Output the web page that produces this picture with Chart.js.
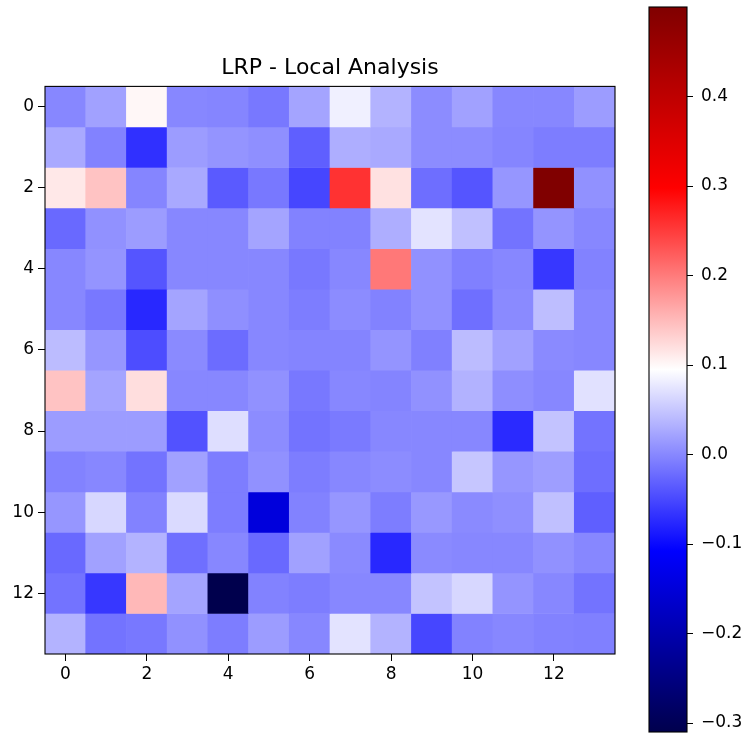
<!DOCTYPE html>
<html><head><meta charset="utf-8">
<script src="https://cdn.jsdelivr.net/npm/chart.js@4"></script>
<style>
html,body{margin:0;padding:0;background:#fff;width:748px;height:733px;overflow:hidden}
#main{position:absolute;left:0;top:0}
#cbar{position:absolute;left:600px;top:0}
</style></head><body>
<canvas id="main" width="660" height="733"></canvas>
<canvas id="cbar" width="148" height="733"></canvas>
<script>
const title = 'LRP - Local Analysis';
const colLabels = ['0','1','2','3','4','5','6','7','8','9','10','11','12','13'];
const yTicks = [0,2,4,6,8,10,12];
const cbTicks = [-0.3,-0.2,-0.1,0.0,0.1,0.2,0.3,0.4];
const vmin = -0.31;
const vmax = 0.50;

const row0  = [0.000, 0.020, 0.101, 0.000, -0.002, -0.012, 0.023, 0.083, 0.035, 0.004, 0.020, 0.000, 0.000, 0.016];
const row1  = [0.027, -0.004, -0.069, 0.016, 0.010, 0.006, -0.032, 0.031, 0.027, 0.004, 0.004, -0.002, -0.008, -0.008];
const row2  = [0.113, 0.143, -0.002, 0.027, -0.036, -0.012, -0.052, 0.258, 0.119, -0.020, -0.040, 0.012, 0.500, 0.008];
const row3  = [-0.024, 0.008, 0.016, 0.000, 0.000, 0.023, -0.004, -0.004, 0.031, 0.073, 0.045, -0.016, 0.010, 0.000];
const row4  = [0.000, 0.010, -0.040, 0.000, 0.000, 0.000, -0.012, 0.000, 0.202, 0.008, -0.006, 0.000, -0.064, -0.004];
const row5  = [0.000, -0.012, -0.076, 0.023, 0.006, 0.000, -0.008, 0.004, -0.004, 0.008, -0.019, 0.002, 0.043, 0.000];
const row6  = [0.042, 0.012, -0.046, 0.002, -0.022, 0.000, -0.003, -0.003, 0.010, -0.006, 0.042, 0.020, 0.002, 0.000];
const row7  = [0.143, 0.023, 0.121, 0.000, 0.000, 0.008, -0.012, 0.000, -0.003, 0.008, 0.034, 0.005, 0.000, 0.071];
const row8  = [0.016, 0.016, 0.016, -0.042, 0.069, 0.004, -0.016, -0.011, 0.000, 0.000, 0.000, -0.074, 0.047, -0.016];
const row9  = [-0.004, 0.000, -0.016, 0.020, -0.008, 0.008, -0.008, 0.000, 0.004, 0.000, 0.050, 0.012, 0.018, -0.020];
const row10 = [0.012, 0.063, -0.004, 0.066, -0.008, -0.147, -0.004, 0.012, -0.008, 0.013, 0.002, 0.006, 0.045, -0.032];
const row11 = [-0.024, 0.020, 0.035, -0.019, 0.000, -0.024, 0.020, 0.002, -0.076, 0.002, 0.000, 0.000, 0.008, 0.000];
const row12 = [-0.016, -0.064, 0.151, 0.023, -0.310, -0.004, -0.008, 0.000, 0.000, 0.047, 0.063, 0.010, 0.000, -0.016];
const row13 = [0.035, -0.016, -0.012, 0.008, -0.008, 0.016, 0.000, 0.073, 0.035, -0.052, -0.004, 0.000, -0.004, -0.006];
const rows = [row0,row1,row2,row3,row4,row5,row6,row7,row8,row9,row10,row11,row12,row13];

// matplotlib "seismic" colormap anchors
const seismicStops = [[0,0,0,0.3],[0.25,0,0,1],[0.5,1,1,1],[0.75,1,0,0],[1,0.5,0,0]];
function seismicT(t){
  t = Math.max(0, Math.min(1, t));
  for (let i=0;i<seismicStops.length-1;i++){
    const a=seismicStops[i], b=seismicStops[i+1];
    if (t<=b[0]){
      const f=(t-a[0])/(b[0]-a[0]);
      const c=[1,2,3].map(k=>Math.round(255*(a[k]+(b[k]-a[k])*f)));
      return `rgb(${c[0]},${c[1]},${c[2]})`;
    }
  }
  return 'rgb(128,0,0)';
}
function seismic(v){ return seismicT((v-vmin)/(vmax-vmin)); }

const FONT = 'DejaVu Sans';
const frame = {
  id:'frame',
  afterDraw(chart){
    const a=chart.chartArea, c=chart.ctx;
    c.save(); c.strokeStyle='#000'; c.lineWidth=1.1;
    c.strokeRect(a.left, a.top, a.right-a.left, a.bottom-a.top);
    c.restore();
  }
};

const datasets = rows.map((row, r) => ({
  label: 'row ' + r,
  data: row.map(() => [r-0.5, r+0.5]),
  backgroundColor: row.map(seismic),
  borderWidth: 0,
  grouped: false,
  barPercentage: 1,
  categoryPercentage: 1
}));

new Chart(document.getElementById('main'), {
  type: 'bar',
  data: { labels: colLabels, datasets },
  options: {
    responsive: false, animation: false,
    layout: { padding: 0, autoPadding: false },
    plugins: {
      legend: { display: false }, tooltip: { enabled: false },
      title: { display: true, text: title, color: '#000',
        font: { family: FONT, size: 22, weight: 'normal' }, padding: { top: 55, bottom: 5 } }
    },
    scales: {
      x: {
        type: 'category', offset: true,
        grid: { offset: false, drawOnChartArea: false, drawTicks: true, tickLength: 7, color: '#000' },
        border: { display: false },
        ticks: { color: '#000', font: { family: FONT, size: 17 }, padding: 3, maxRotation: 0, autoSkip: false },
        afterBuildTicks: s => { s.ticks = s.ticks.filter(t => t.value % 2 === 0); },
        afterFit: s => { s.height = 79; }
      },
      y: {
        type: 'linear', reverse: true, min: -0.5, max: 13.5,
        grid: { drawOnChartArea: false, drawTicks: true, tickLength: 7, color: '#000' },
        border: { display: false },
        ticks: { color: '#000', font: { family: FONT, size: 17 }, padding: 4, autoSkip: false },
        afterBuildTicks: s => { s.ticks = yTicks.map(v => ({ value: v })); },
        afterFit: s => { s.width = 45; }
      },
      yRight: {
        type: 'linear', position: 'right', min: 0, max: 1,
        grid: { display: false }, border: { display: false },
        ticks: { display: false },
        afterFit: s => { s.width = 45; }
      }
    }
  },
  plugins: [frame]
});

new Chart(document.getElementById('cbar'), {
  type: 'bar',
  data: { labels: ['cb'], datasets: [{
    data: [[vmin, vmax]],
    backgroundColor: ctx => {
      const ca = ctx.chart.chartArea;
      if (!ca) return '#888';
      const g = ctx.chart.ctx.createLinearGradient(0, ca.bottom, 0, ca.top);
      for (let i=0;i<=40;i++){ g.addColorStop(i/40, seismicT(i/40)); }
      return g;
    },
    borderWidth: 0, barPercentage: 1, categoryPercentage: 1
  }]},
  options: {
    responsive: false, animation: false,
    layout: { padding: { left: 49, top: 7, bottom: 1, right: 0 }, autoPadding: false },
    plugins: { legend: { display: false }, tooltip: { enabled: false } },
    scales: {
      x: { display: false },
      y: {
        type: 'linear', position: 'right', min: vmin, max: vmax,
        grid: { drawOnChartArea: false, drawTicks: true, tickLength: 6, color: '#000' },
        border: { display: false },
        ticks: { color: '#000', font: { family: FONT, size: 17 }, padding: 8, autoSkip: false,
          callback: v => (v < -1e-9 ? '\u2212' : '') + Math.abs(v).toFixed(1) },
        afterBuildTicks: s => { s.ticks = cbTicks.map(v => ({ value: v })); },
        afterFit: s => { s.width = 61; s.paddingTop = 0; s.paddingBottom = 0; }
      }
    }
  },
  plugins: [frame]
});
</script>
</body></html>
